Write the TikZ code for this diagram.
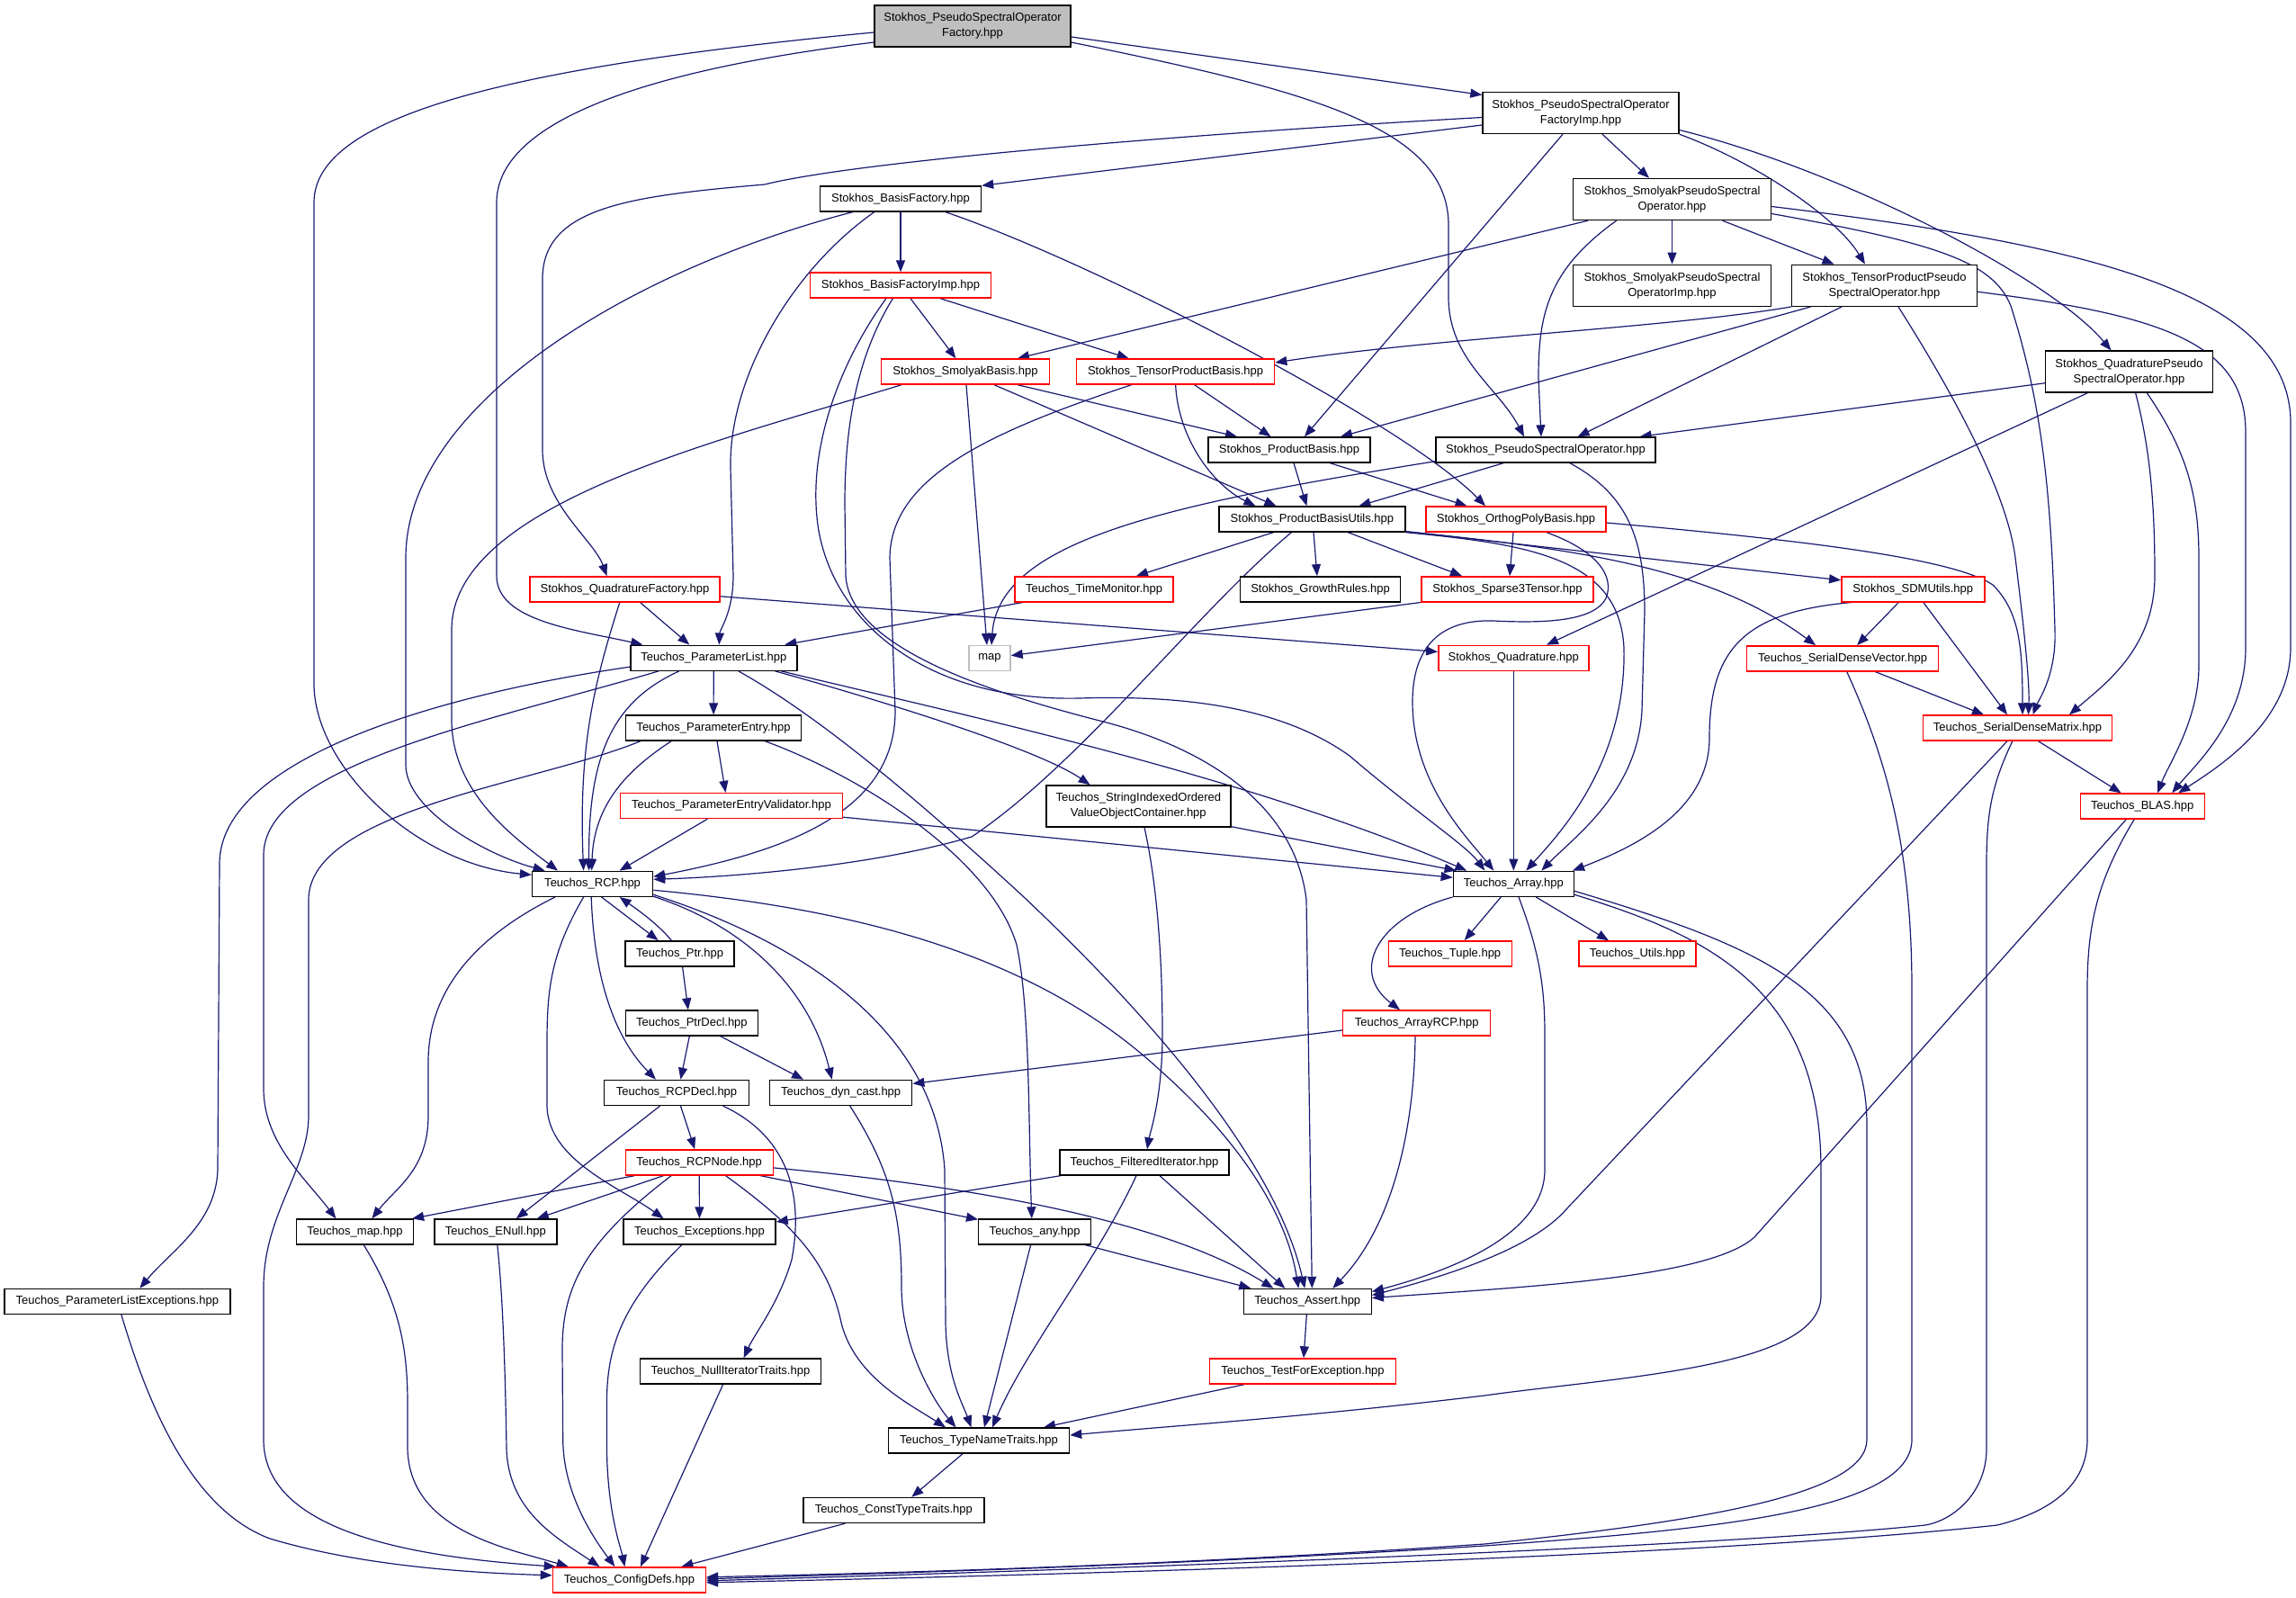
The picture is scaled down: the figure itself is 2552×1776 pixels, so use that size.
\documentclass[tikz,border=0pt]{standalone}
\usepackage{fontspec}
\setmainfont{Liberation Sans}
\usetikzlibrary{arrows.meta,calc}
\pgfdeclarelayer{background}
\pgfdeclarelayer{edges}
\pgfsetlayers{background,edges,main}
\definecolor{edgec}{HTML}{191970}
\definecolor{nodered}{HTML}{FF0000}
\definecolor{grayfill}{HTML}{BFBFBF}
\begin{document}
\begin{tikzpicture}[x=1pt,y=-1pt,
  every node/.style={font=\fontsize{13}{17}\selectfont, align=center, inner sep=0pt, line width=1.4pt},
  nb/.style 2 args={draw=black, fill=white, minimum width=#1pt, minimum height=#2pt},
  nr/.style 2 args={draw=nodered, fill=white, minimum width=#1pt, minimum height=#2pt},
  ng/.style 2 args={draw=black, fill=grayfill, minimum width=#1pt, minimum height=#2pt},
  nm/.style 2 args={draw=grayfill, fill=white, minimum width=#1pt, minimum height=#2pt},
  e/.style={draw=edgec, line width=1.2pt, -{Triangle[length=13pt,width=10pt]}}]
\begin{pgfonlayer}{background}
\fill[white] (0,0) rectangle (2552,1776);
\end{pgfonlayer}
\useasboundingbox (0,0) rectangle (2552,1776);
% nodes
\node[ng={218}{46}] (psof) at (1081,29) {Stokhos\_PseudoSpectralOperator\\Factory.hpp};
\node[nb={218}{46}] (psofimp) at (1757,125.5) {Stokhos\_PseudoSpectralOperator\\FactoryImp.hpp};
\node[nb={179}{28}] (bf) at (1001,221) {Stokhos\_BasisFactory.hpp};
\node[nr={201}{28}] (bfi) at (1001,317) {Stokhos\_BasisFactoryImp.hpp};
\node[nr={187}{28}] (sb) at (1073,413) {Stokhos\_SmolyakBasis.hpp};
\node[nr={220}{28}] (tpb) at (1306.6,413) {Stokhos\_TensorProductBasis.hpp};
\node[nb={180}{28}] (pb) at (1433,500) {Stokhos\_ProductBasis.hpp};
\node[nb={244}{28}] (pso) at (1718,500) {Stokhos\_PseudoSpectralOperator.hpp};
\node[nb={207}{28}] (pbu) at (1458.4,577) {Stokhos\_ProductBasisUtils.hpp};
\node[nr={200}{28}] (opb) at (1685,577) {Stokhos\_OrthogPolyBasis.hpp};
\node[nb={220}{46}] (spso) at (1858.5,221.5) {Stokhos\_SmolyakPseudoSpectral\\Operator.hpp};
\node[nb={220}{46}] (spsoi) at (1858.5,317.3) {Stokhos\_SmolyakPseudoSpectral\\OperatorImp.hpp};
\node[nb={206}{46}] (tppso) at (2094.5,317.3) {Stokhos\_TensorProductPseudo\\SpectralOperator.hpp};
\node[nb={186}{46}] (qpso) at (2366.5,413.2) {Stokhos\_QuadraturePseudo\\SpectralOperator.hpp};
\node[nr={211}{28}] (qf) at (694.5,654.8) {Stokhos\_QuadratureFactory.hpp};
\node[nr={176}{28}] (tm) at (1216,654.8) {Teuchos\_TimeMonitor.hpp};
\node[nb={178}{28}] (gr) at (1467.6,654.8) {Stokhos\_GrowthRules.hpp};
\node[nr={191}{28}] (s3t) at (1675.5,654.8) {Stokhos\_Sparse3Tensor.hpp};
\node[nr={159}{28}] (sdmu) at (2126.3,654.8) {Stokhos\_SDMUtils.hpp};
\node[nb={185}{28}] (pl) at (793.3,731.2) {Teuchos\_ParameterList.hpp};
\node[nm={46}{28}] (map) at (1100,731.6) {map};
\node[nr={167}{28}] (quad) at (1682.3,731.4) {Stokhos\_Quadrature.hpp};
\node[nr={213}{28}] (sdv) at (2048.1,731.8) {Teuchos\_SerialDenseVector.hpp};
\node[nb={195}{28}] (pe) at (793,809) {Teuchos\_ParameterEntry.hpp};
\node[nr={210}{28}] (sdm) at (2242.5,809) {Teuchos\_SerialDenseMatrix.hpp};
\node[nr={247}{28}] (pev) at (813,895.5) {Teuchos\_ParameterEntryValidator.hpp};
\node[nb={205}{46}] (sio) at (1265.3,896) {Teuchos\_StringIndexedOrdered\\ValueObjectContainer.hpp};
\node[nr={138}{28}] (blas) at (2381.2,896) {Teuchos\_BLAS.hpp};
\node[nb={134}{28}] (rcp) at (658.6,982.3) {Teuchos\_RCP.hpp};
\node[nb={134}{28}] (arr) at (1682.3,982.3) {Teuchos\_Array.hpp};
\node[nb={121}{28}] (ptr) at (755.6,1059.8) {Teuchos\_Ptr.hpp};
\node[nr={137}{28}] (tup) at (1611.7,1059.8) {Teuchos\_Tuple.hpp};
\node[nr={130}{28}] (utils) at (1820,1060) {Teuchos\_Utils.hpp};
\node[nb={147}{28}] (ptrdecl) at (768.9,1137) {Teuchos\_PtrDecl.hpp};
\node[nr={164}{28}] (arcp) at (1574.7,1137) {Teuchos\_ArrayRCP.hpp};
\node[nb={161}{28}] (rcpdecl) at (752,1214.4) {Teuchos\_RCPDecl.hpp};
\node[nb={158}{28}] (dyn) at (934.7,1214.4) {Teuchos\_dyn\_cast.hpp};
\node[nr={164}{28}] (rcpnode) at (777.2,1291.9) {Teuchos\_RCPNode.hpp};
\node[nb={188}{28}] (fit) at (1272,1291.9) {Teuchos\_FilteredIterator.hpp};
\node[nb={130}{28}] (tmap) at (394.4,1369) {Teuchos\_map.hpp};
\node[nb={136}{28}] (enull) at (550.8,1369) {Teuchos\_ENull.hpp};
\node[nb={169}{28}] (exc) at (777.5,1369) {Teuchos\_Exceptions.hpp};
\node[nb={125}{28}] (any) at (1150.2,1369) {Teuchos\_any.hpp};
\node[nb={251}{28}] (ple) at (130.3,1446.5) {Teuchos\_ParameterListExceptions.hpp};
\node[nb={142}{28}] (assert) at (1453.3,1446.5) {Teuchos\_Assert.hpp};
\node[nb={201}{28}] (nit) at (812,1524) {Teuchos\_NullIteratorTraits.hpp};
\node[nr={207}{28}] (tfe) at (1448,1524) {Teuchos\_TestForException.hpp};
\node[nb={201}{28}] (tnt) at (1088,1601) {Teuchos\_TypeNameTraits.hpp};
\node[nb={201}{28}] (ctt) at (993.3,1678.5) {Teuchos\_ConstTypeTraits.hpp};
\node[nr={170}{28}] (cfg) at (699.4,1755.8) {Teuchos\_ConfigDefs.hpp};
\begin{pgfonlayer}{edges}
% psof
\draw[e] ($(psof.east)+(0,12)$) -- ($(psofimp.west)+(0,-20)$);
\draw[e] ($(psof.east)+(0,18)$) .. controls (1450,100) and (1610,140) .. (1610,250) -- (1610,330) .. controls (1610,400) and (1665,430) .. ($(pso.north)+(-24,0)$);
\draw[e] ($(psof.west)+(0,7)$) .. controls (560,75) and (349,130) .. (349,225) -- (349,760) .. controls (349,850) and (460,960) .. ($(rcp.west)+(0,-10)$);
\draw[e] ($(psof.west)+(0,18)$) .. controls (700,80) and (552,140) .. (552,225) -- (552,640) .. controls (552,690) and (640,700) .. ($(pl.north)+(-79,0)$);
% psofimp
\draw[e] ($(psofimp.west)+(0,13.5)$) -- (bf.north east);
\draw[e] ($(psofimp.west)+(0,5)$) .. controls (1300,150) and (950,180) .. (850,205) .. controls (700,218) and (603,230) .. (603,310) -- (603,500) .. controls (603,560) and (660,600) .. ($(qf.north)+(-20,0)$);
\draw[e] ($(psofimp.south)+(-20,0)$) -- ($(pb.north)+(17,0)$);
\draw[e] ($(psofimp.south)+(24,0)$) -- ($(spso.north)+(-25.5,0)$);
\draw[e] (psofimp.south east) .. controls (1950,180) and (2040,240) .. ($(tppso.north)+(-21.5,0)$);
\draw[e] ($(psofimp.east)+(0,19)$) .. controls (2050,190) and (2280,310) .. ($(qpso.north)+(-20,0)$);
% bf
\draw[e] (bf) -- (bfi);
\draw[e] ($(bf.south)+(-53.4,0)$) .. controls (700,300) and (451,450) .. (451,620) -- (451,850) .. controls (451,900) and (540,950) .. ($(rcp.north)+(-53,0)$);
\draw[e] ($(bf.south)+(-29.3,0)$) .. controls (880,300) and (810,420) .. (812,520) -- (815,640) .. controls (815,680) and (800,700) .. ($(pl.north)+(6,0)$);
\draw[e] ($(bf.south)+(50,0)$) .. controls (1217,292) and (1560,470) .. ($(opb.north)+(-34,0)$);
% bfi
\draw[e] ($(bfi.south)+(11,0)$) -- ($(sb.north)+(-10.6,0)$);
\draw[e] ($(bfi.south)+(44,0)$) -- ($(tpb.north)+(-52,0)$);
\draw[e] ($(bfi.south)+(-16,0)$) .. controls (935,400) and (895,500) .. (910,590) .. controls (930,700) and (1040,780) .. (1200,776) .. controls (1330,772) and (1430,790) .. (1500,840) .. controls (1570,900) and (1630,940) .. ($(arr.north)+(-32,0)$);
\draw[e] ($(bfi.south)+(-8.6,0)$) .. controls (950,400) and (939,480) .. (939,560) -- (940,640) .. controls (945,720) and (1100,770) .. (1230,803) .. controls (1350,835) and (1440,900) .. (1452,1000) -- ($(assert.north)+(5,0)$);
% sb
\draw[e] ($(sb.south)+(58,0)$) -- ($(pb.north)+(-58,0)$);
\draw[e] ($(sb.south)+(32,0)$) -- ($(pbu.north)+(-40,0)$);
\draw[e] ($(sb.south)+(1,0)$) -- ($(map.north)+(-3,0)$);
\draw[e] ($(sb.south)+(-71,0)$) .. controls (800,490) and (502,560) .. (502,700) -- (502,800) .. controls (502,880) and (570,930) .. ($(rcp.north)+(-38.6,0)$);
% tpb
\draw[e] ($(tpb.south)+(21,0)$) -- ($(pb.north)+(-20.5,0)$);
\draw[e] (tpb.south) .. controls (1310,490) and (1350,540) .. ($(pbu.north)+(-63,0)$);
\draw[e] ($(tpb.south)+(-49,0)$) .. controls (1100,480) and (990,530) .. (989,620) -- (995,790) .. controls (995,900) and (880,945) .. ($(rcp.east)+(0,-8)$);
% pb
\draw[e] ($(pb.south)+(5,0)$) -- ($(pbu.north)+(-6,0)$);
\draw[e] ($(pb.south)+(45.5,0)$) -- ($(opb.north)+(-54.5,0)$);
% pso
\draw[e] ($(pso.south)+(-47,0)$) -- ($(pbu.north)+(52,0)$);
\draw[e] ($(pso.south west)+(0,-2)$) .. controls (1300,560) and (1110,600) .. ($(map.north)+(2,0)$);
\draw[e] ($(pso.south)+(27,0)$) .. controls (1810,550) and (1828,600) .. (1828,680) -- (1825,790) .. controls (1820,880) and (1750,930) .. ($(arr.north)+(31,0)$);
% pbu
\draw[e] ($(pbu.south)+(-43,0)$) -- ($(tm.north)+(47,0)$);
\draw[e] ($(pbu.south)+(-23,0)$) .. controls (1330,680) and (1200,850) .. (1080,930) .. controls (960,965) and (800,975) .. ($(rcp.east)+(0,-5)$);
\draw[e] ($(pbu.south)+(1.6,0)$) -- ($(gr.north)+(-3.6,0)$);
\draw[e] ($(pbu.south)+(40,0)$) -- ($(s3t.north)+(-50.5,0)$);
\draw[e] ($(pbu.south east)+(0,-1)$) -- ($(sdmu.west)+(0,-10)$);
\draw[e] ($(pbu.south east)+(0,-1)$) .. controls (1750,610) and (1900,630) .. ($(sdv.north)+(-30,0)$);
\draw[e] (pbu.south east) .. controls (1700,605) and (1800,620) .. (1805,720) .. controls (1808,850) and (1730,930) .. ($(arr.north)+(14,0)$);
% opb
\draw[e] ($(opb.south)+(-3,0)$) -- ($(s3t.north)+(2.5,0)$);
\draw[e] ($(opb.south)+(34,0)$) .. controls (1775,612) and (1795,640) .. (1785,665) .. controls (1772,690) and (1720,693) .. (1660,690) .. controls (1600,688) and (1570,720) .. (1570,780) .. controls (1570,870) and (1630,930) .. ($(arr.north)+(-22,0)$);
\draw[e] ($(opb.east)+(0,4)$) .. controls (2000,600) and (2170,620) .. (2215,650) .. controls (2245,680) and (2248,720) .. ($(sdm.north)+(5.5,0)$);
% spso
\draw[e] ($(spso.south)+(-93.5,0)$) -- ($(sb.north)+(58,0)$);
\draw[e] ($(spso.south)+(-61.8,0)$) .. controls (1720,300) and (1710,350) .. (1710,420) -- ($(pso.north)+(-5,0)$);
\draw[e] (spso) -- (spsoi);
\draw[e] ($(spso.south)+(56,0)$) -- ($(tppso.north)+(-56,0)$);
\draw[e] ($(spso.east)+(0,8)$) .. controls (2300,270) and (2546,320) .. (2546,470) -- (2546,720) .. controls (2546,800) and (2470,850) .. ($(blas.north)+(40,0)$);
\draw[e] ($(spso.east)+(0,16)$) .. controls (2150,270) and (2215,290) .. (2235,340) .. controls (2270,450) and (2280,550) .. (2284,700) .. controls (2286,750) and (2265,780) .. ($(sdm.north)+(17,0)$);
% tppso
\draw[e] (tppso.south west) .. controls (1850,365) and (1600,375) .. ($(tpb.east)+(0,-10)$);
\draw[e] ($(tppso.south)+(-82,0)$) -- ($(pb.north)+(57,0)$);
\draw[e] ($(tppso.south)+(-47.5,0)$) -- ($(pso.north)+(35.6,0)$);
\draw[e] ($(tppso.south)+(15.5,0)$) .. controls (2160,420) and (2230,540) .. (2240,620) .. controls (2250,700) and (2256,760) .. ($(sdm.north)+(12,0)$);
\draw[e] ($(tppso.east)+(0,7)$) .. controls (2400,350) and (2496,380) .. (2496,480) -- (2496,720) .. controls (2496,800) and (2440,850) .. ($(blas.north)+(33,0)$);
% qpso
\draw[e] ($(qpso.west)+(0,12.6)$) -- ($(pso.north)+(104.6,0)$);
\draw[e] ($(qpso.south)+(-46.5,0)$) -- ($(quad.north)+(36.7,0)$);
\draw[e] ($(qpso.south)+(7.2,0)$) .. controls (2390,500) and (2395,560) .. (2395,640) .. controls (2395,720) and (2340,760) .. ($(sdm.north)+(57.5,0)$);
\draw[e] ($(qpso.south)+(19.9,0)$) .. controls (2430,500) and (2444,550) .. (2444,620) -- (2444,740) .. controls (2444,800) and (2410,850) .. ($(blas.north)+(17,0)$);
% qf
\draw[e] ($(qf.south)+(17,0)$) -- ($(pl.north)+(-27,0)$);
\draw[e] ($(qf.south)+(-5.7,0)$) .. controls (660,760) and (643,830) .. ($(rcp.north)+(-10,0)$);
\draw[e] ($(qf.east)+(0,8)$) -- ($(quad.west)+(0,-7)$);
% tm
\draw[e] ($(tm.south)+(-79,0)$) -- ($(pl.north)+(79,0)$);
% pl
\draw[e] ($(pl.south)+(-38.5,0)$) .. controls (680,780) and (654,840) .. ($(rcp.north)+(-4,0)$);
\draw[e] (pl) -- (pe);
\draw[e] ($(pl.west)+(0,10)$) .. controls (500,770) and (244,840) .. (244,960) -- (242,1300) .. controls (240,1360) and (190,1390) .. ($(ple.north)+(25,0)$);
\draw[e] ($(pl.south)+(-61.4,0)$) .. controls (550,800) and (293,850) .. (293,950) -- (293,1210) .. controls (293,1270) and (340,1310) .. ($(tmap.north)+(-21,0)$);
\draw[e] ($(pl.south)+(27.5,0)$) .. controls (900,790) and (1000,870) .. (1137,996) .. controls (1300,1150) and (1420,1300) .. ($(assert.north)+(-3,0)$);
\draw[e] ($(pl.south east)+(-25,0)$) .. controls (950,770) and (1150,830) .. ($(sio.north)+(-53.7,0)$);
\draw[e] ($(pl.south east)+(-18,0)$) .. controls (1050,790) and (1380,860) .. ($(arr.north)+(-52,0)$);
% pe
\draw[e] ($(pe.south)+(4,0)$) -- ($(pev.north)+(-6.5,0)$);
\draw[e] ($(pe.south)+(-46.8,0)$) .. controls (690,860) and (660,900) .. ($(rcp.north)+(-1,0)$);
\draw[e] ($(pe.south)+(-81.2,0)$) .. controls (600,870) and (343,900) .. (343,1000) -- (343,1240) .. controls (343,1300) and (293,1350) .. (293,1430) -- (293,1600) .. controls (293,1700) and (450,1730) .. ($(cfg.north west)+(4,0)$);
\draw[e] ($(pe.south east)+(-41,0)$) .. controls (950,860) and (1100,950) .. (1130,1050) .. controls (1145,1120) and (1143,1250) .. ($(any.north)+(-3.4,0)$);
% pev
\draw[e] ($(pev.south)+(-26.6,0)$) -- ($(rcp.north)+(30,0)$);
\draw[e] ($(pev.east)+(0,12.7)$) -- ($(arr.west)+(0,-7)$);
% sio
\draw[e] ($(sio.south east)+(0,-1)$) -- ($(arr.north west)+(4,0)$);
\draw[e] ($(sio.south)+(6.7,0)$) .. controls (1290,1000) and (1292,1100) .. (1292,1150) .. controls (1292,1220) and (1278,1260) .. ($(fit.north)+(3,0)$);
% s3t, quad
\draw[e] (s3t.south west) -- ($(map.east)+(0,-3)$);
\draw[e] (quad) -- (arr);
% sdmu
\draw[e] ($(sdmu.south west)+(12,0)$) .. controls (1940,680) and (1900,720) .. (1900,820) .. controls (1900,900) and (1820,940) .. ($(arr.north east)+(-2,0)$);
\draw[e] ($(sdmu.south)+(-16,0)$) -- ($(sdv.north)+(16,0)$);
\draw[e] ($(sdmu.south)+(11.5,0)$) -- ($(sdm.north)+(-11.5,0)$);
% sdv
\draw[e] ($(sdv.south)+(36,0)$) -- ($(sdm.north)+(-37.5,0)$);
\draw[e] ($(sdv.south)+(4.6,0)$) .. controls (2100,850) and (2125,950) .. (2125,1100) -- (2125,1600) .. controls (2125,1680) and (1900,1700) .. (1650,1718) .. controls (1300,1740) and (1000,1748) .. ($(cfg.east)+(0,-1)$);
% sdm
\draw[e] ($(sdm.south)+(23,0)$) -- ($(blas.north)+(-23.6,0)$);
\draw[e] ($(sdm.south)+(-11.5,0)$) -- (1740,1345) .. controls (1700,1390) and (1600,1420) .. ($(assert.east)+(0,-7)$);
\draw[e] ($(sdm.south)+(-5.7,0)$) .. controls (2215,870) and (2208,900) .. (2208,960) -- (2208,1610) .. controls (2208,1660) and (2170,1690) .. (2140,1695) .. controls (1900,1720) and (1200,1745) .. ($(cfg.east)+(0,1)$);
% blas
\draw[e] ($(blas.south)+(-18,0)$) -- (1950,1375) .. controls (1900,1420) and (1700,1430) .. ($(assert.east)+(0,-4)$);
\draw[e] ($(blas.south)+(-9,0)$) .. controls (2330,980) and (2320,1030) .. (2320,1100) -- (2320,1600) .. controls (2320,1650) and (2280,1680) .. (2220,1695) .. controls (1900,1730) and (1200,1750) .. ($(cfg.east)+(0,3)$);
% arr
\draw[e] ($(arr.south)+(-14,0)$) -- ($(tup.north)+(16,0)$);
\draw[e] ($(arr.south)+(25,0)$) -- ($(utils.north)+(-32,0)$);
\draw[e] (arr.south west) .. controls (1530,1020) and (1500,1080) .. ($(arcp.north)+(-18.7,0)$);
\draw[e] ($(arr.south)+(5.7,0)$) .. controls (1712,1060) and (1717,1100) .. (1717,1150) -- (1717,1300) .. controls (1717,1370) and (1620,1410) .. ($(assert.east)+(0,-11)$);
\draw[e] ($(arr.east)+(0,12)$) .. controls (1900,1040) and (2024,1100) .. (2024,1300) -- (2024,1440) .. controls (2024,1520) and (1800,1530) .. (1650,1551) .. controls (1450,1575) and (1300,1585) .. ($(tnt.east)+(0,-6)$);
\draw[e] ($(arr.east)+(0,8)$) .. controls (1950,1050) and (2075,1100) .. (2075,1250) -- (2075,1600) .. controls (2075,1660) and (1900,1690) .. (1650,1716) .. controls (1300,1740) and (1000,1748) .. ($(cfg.east)+(0,-3)$);
% arcp
\draw[e] ($(arcp.west)+(0,8)$) -- ($(dyn.east)+(0,-10)$);
\draw[e] ($(arcp.south)+(-1.7,0)$) .. controls (1572,1250) and (1550,1360) .. ($(assert.north)+(28,0)$);
% dyn
\draw[e] ($(dyn.south)+(10,0)$) .. controls (990,1300) and (1002,1350) .. (1002,1430) .. controls (1002,1500) and (1040,1560) .. ($(tnt.north)+(-25.6,0)$);
% fit
\draw[e] ($(fit.south west)+(2,0)$) -- ($(exc.east)+(0,-11)$);
\draw[e] ($(fit.south)+(17,0)$) -- ($(assert.north)+(-25,0)$);
\draw[e] ($(fit.south)+(-9,0)$) .. controls (1220,1400) and (1140,1500) .. ($(tnt.north)+(15,0)$);
% any
\draw[e] ($(any.south east)+(-7,0)$) -- ($(assert.north)+(-63,0)$);
\draw[e] ($(any.south)+(-4.6,0)$) -- ($(tnt.north)+(6,0)$);
% assert, tfe, tnt, ctt
\draw[e] (assert) -- (tfe);
\draw[e] ($(tfe.south)+(-65,0)$) -- ($(tnt.north)+(72,0)$);
\draw[e] ($(tnt.south)+(-18,0)$) -- ($(ctt.north)+(20,0)$);
\draw[e] ($(ctt.south)+(-54,0)$) -- ($(cfg.north)+(58,0)$);
% rcp
\draw[e] ($(rcp.south)+(10,0)$) -- ($(ptr.north)+(-24,0)$);
\draw[e] ($(rcp.south)+(-1.4,0)$) .. controls (660,1080) and (680,1150) .. ($(rcpdecl.north)+(-23,0)$);
\draw[e] ($(rcp.south)+(-41.6,0)$) .. controls (530,1040) and (476,1100) .. (476,1180) -- (476,1240) .. controls (476,1300) and (440,1320) .. ($(tmap.north)+(19,0)$);
\draw[e] ($(rcp.south)+(-10,0)$) .. controls (612,1060) and (608,1100) .. (608,1160) -- (608,1230) .. controls (610,1290) and (690,1320) .. ($(exc.north)+(-40,0)$);
\draw[e] ($(rcp.east)+(0,14)$) .. controls (830,1030) and (900,1100) .. ($(dyn.north)+(-10,0)$);
\draw[e] ($(rcp.east)+(0,12)$) .. controls (900,1050) and (1040,1150) .. (1050,1300) -- (1051,1470) .. controls (1052,1530) and (1070,1560) .. ($(tnt.north)+(-8.5,0)$);
\draw[e] ($(rcp.east)+(0,7)$) .. controls (950,1010) and (1150,1060) .. (1290,1190) .. controls (1380,1270) and (1430,1350) .. ($(assert.north)+(-10,0)$);
% ptr, ptrdecl
\draw[e] ($(ptr.north)+(-9.4,0)$) .. controls (730,1025) and (700,1005) .. ($(rcp.south)+(30,0)$);
\draw[e] ($(ptr.south)+(3,0)$) -- ($(ptrdecl.north)+(-4,0)$);
\draw[e] ($(ptrdecl.south)+(-2.6,0)$) -- ($(rcpdecl.north)+(4.5,0)$);
\draw[e] ($(ptrdecl.south)+(32,0)$) -- ($(dyn.north)+(-41.7,0)$);
% rcpdecl
\draw[e] ($(rcpdecl.south)+(4.5,0)$) -- ($(rcpnode.north)+(-5,0)$);
\draw[e] ($(rcpdecl.south)+(-18.4,0)$) -- ($(enull.north)+(23,0)$);
\draw[e] ($(rcpdecl.south)+(51.5,0)$) .. controls (870,1260) and (895,1320) .. (880,1400) .. controls (865,1450) and (840,1480) .. ($(nit.north)+(14.6,0)$);
% rcpnode
\draw[e] ($(rcpnode.south west)+(11,0)$) -- ($(tmap.north east)+(-2,0)$);
\draw[e] ($(rcpnode.south)+(-39.6,0)$) -- ($(enull.north)+(46,0)$);
\draw[e] (rcpnode) -- (exc);
\draw[e] ($(rcpnode.south)+(-31,0)$) .. controls (650,1380) and (625,1430) .. (625,1500) -- (625.7,1600) .. controls (626,1660) and (660,1710) .. ($(cfg.north)+(-16,0)$);
\draw[e] ($(rcpnode.south)+(29.3,0)$) .. controls (880,1360) and (920,1400) .. (935,1470) .. controls (950,1530) and (1010,1560) .. ($(tnt.north)+(-37,0)$);
\draw[e] ($(rcpnode.south east)+(-15,0)$) -- ($(any.north west)+(0,1)$);
\draw[e] ($(rcpnode.east)+(0,6)$) .. controls (1100,1320) and (1300,1360) .. ($(assert.north)+(-38,0)$);
% leaves to ConfigDefs
\draw[e] ($(tmap.south)+(10,0)$) .. controls (445,1450) and (453,1500) .. (453,1560) -- (453,1610) .. controls (455,1700) and (560,1720) .. ($(cfg.north west)+(18,0)$);
\draw[e] ($(enull.south)+(2,0)$) .. controls (560,1450) and (562,1550) .. (563,1610) .. controls (565,1680) and (620,1710) .. ($(cfg.north)+(-33,0)$);
\draw[e] ($(exc.south)+(-19.8,0)$) .. controls (690,1450) and (674,1500) .. (674.5,1560) -- (674.5,1610) .. controls (675,1680) and (690,1720) .. ($(cfg.north)+(-5,0)$);
\draw[e] ($(ple.south)+(4.6,0)$) .. controls (170,1580) and (220,1680) .. (300,1710) .. controls (400,1740) and (520,1748) .. ($(cfg.west)+(0,-5)$);
\draw[e] ($(nit.south)+(-8.4,0)$) -- ($(cfg.north)+(12.6,0)$);
\end{pgfonlayer}
\end{tikzpicture}
\end{document}
